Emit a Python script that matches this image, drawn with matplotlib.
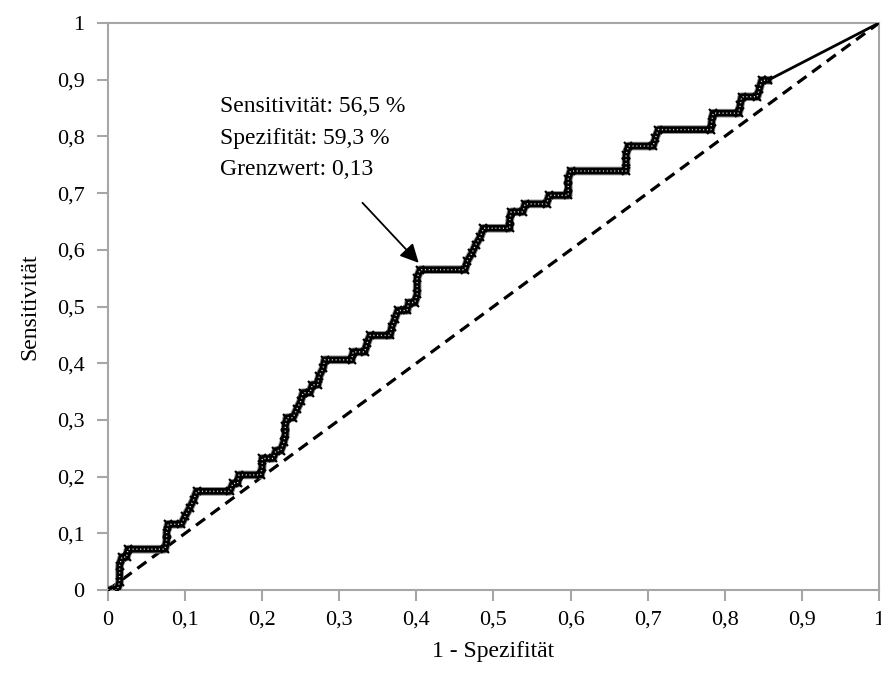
import matplotlib
matplotlib.use('Agg')
import matplotlib.pyplot as plt
from matplotlib.ticker import FuncFormatter

plt.rcParams['font.family'] = ['Liberation Serif', 'DejaVu Serif']
plt.rcParams['font.size'] = 16

# ROC corners (1 - Spezifität, Sensitivität)
fpr = [0, 0.012, 0.015, 0.015, 0.018, 0.024, 0.026, 0.074, 0.076, 0.076, 0.078,
       0.095, 0.100, 0.106, 0.111, 0.115, 0.158, 0.162, 0.168, 0.170, 0.198,
       0.200, 0.200, 0.214, 0.218, 0.224, 0.228, 0.230, 0.230, 0.232, 0.240,
       0.245, 0.250, 0.253, 0.262, 0.265, 0.272, 0.274, 0.279, 0.281, 0.316,
       0.318, 0.333, 0.336, 0.340, 0.366, 0.368, 0.372, 0.376, 0.388, 0.390,
       0.398, 0.401, 0.401, 0.405, 0.463, 0.466, 0.472, 0.477, 0.483, 0.487,
       0.521, 0.521, 0.523, 0.538, 0.541, 0.569, 0.572, 0.597, 0.597, 0.597,
       0.600, 0.672, 0.672, 0.672, 0.675, 0.707, 0.710, 0.714, 0.782, 0.783,
       0.785, 0.818, 0.820, 0.822, 0.842, 0.845, 0.848, 0.856]
tpr = [0, 0, 0.014, 0.043, 0.058, 0.058, 0.072, 0.072, 0.087, 0.101, 0.116,
       0.116, 0.130, 0.145, 0.159, 0.174, 0.174, 0.188, 0.188, 0.203, 0.203,
       0.217, 0.232, 0.232, 0.246, 0.246, 0.261, 0.275, 0.290, 0.304, 0.304,
       0.319, 0.333, 0.348, 0.348, 0.362, 0.362, 0.377, 0.391, 0.406, 0.406,
       0.420, 0.420, 0.435, 0.449, 0.449, 0.464, 0.478, 0.493, 0.493, 0.507,
       0.507, 0.522, 0.551, 0.565, 0.565, 0.580, 0.594, 0.609, 0.623, 0.638,
       0.638, 0.652, 0.667, 0.667, 0.681, 0.681, 0.696, 0.696, 0.710, 0.725,
       0.739, 0.739, 0.754, 0.768, 0.783, 0.783, 0.797, 0.812, 0.812, 0.826,
       0.841, 0.841, 0.855, 0.870, 0.870, 0.884, 0.899, 0.899]

end_point = (1.0, 1.0)
cutoff = (0.405, 0.565)
info = ['Sensitivität: 56,5 %', 'Spezifität: 59,3 %', 'Grenzwert: 0,13']

fig = plt.figure(figsize=(8.81, 6.81), dpi=100)
ax = fig.add_axes([0.1226, 0.1336, 0.8751, 0.8326])

# reference diagonal
ax.plot([0, 1], [0, 1], color='black', lw=2.3, ls=(0, (3.5, 2.2)), zorder=2)

# ROC curve: dense x-marker look = thick dark band with light dots
ax.plot(fpr, tpr, color='#8a8a8a', lw=6.2, solid_joinstyle='round', zorder=3)
ax.plot(fpr, tpr, color='black', lw=4.8, solid_joinstyle='round', zorder=3)
ax.plot(fpr, tpr, ls='none', marker='x', ms=6, mew=1.6, color='black', zorder=4)
ax.plot(fpr, tpr, color='#d8d8d8', lw=1.0, ls=(0, (0.8, 1.9)), zorder=5)
ax.plot([fpr[-1], end_point[0]], [tpr[-1], end_point[1]], color='black', lw=2, zorder=3)

# annotation
for i, line in enumerate(info):
    ax.text(0.145, 0.852 - i * 0.055, line, fontsize=17, va='center', ha='left')
ax.annotate('', xy=(cutoff[0] - 0.002, cutoff[1] + 0.012), xytext=(0.33, 0.683),
            arrowprops=dict(arrowstyle='-|>', mutation_scale=28, lw=1.3,
                            color='black', shrinkA=0, shrinkB=0))

ax.set_xlim(0, 1)
ax.set_ylim(0, 1)
ticks = [i / 10 for i in range(11)]
ax.set_xticks(ticks)
ax.set_yticks(ticks)
fmt = FuncFormatter(lambda v, p: ('%g' % round(v, 1)).replace('.', ','))
ax.xaxis.set_major_formatter(fmt)
ax.yaxis.set_major_formatter(fmt)

for s in ax.spines.values():
    s.set_color('#a6a6a6')
    s.set_linewidth(1.5)
ax.tick_params(direction='out', length=8, width=1.5, color='#a6a6a6',
               labelsize=16)
ax.tick_params(axis='x', pad=7)
ax.tick_params(axis='y', pad=9)

ax.set_xlabel('1 - Spezifität', fontsize=17, labelpad=8)
ax.set_ylabel('Sensitivität', fontsize=17, labelpad=12)

fig.savefig('out.png', dpi=100)
